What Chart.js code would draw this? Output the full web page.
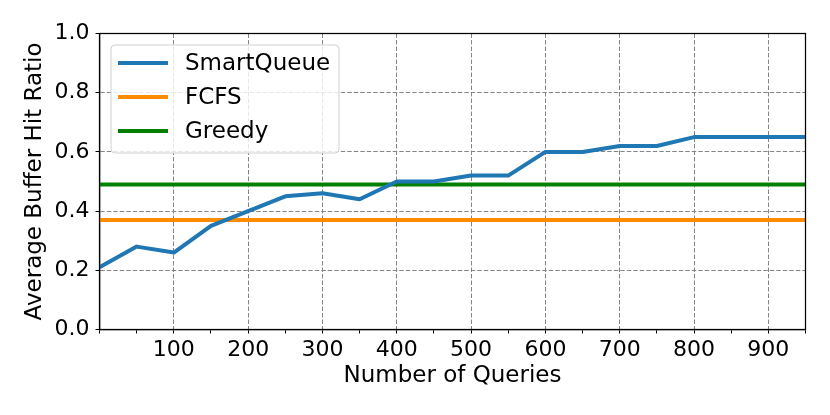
<!DOCTYPE html>
<html>
<head>
<meta charset="utf-8">
<script src="https://cdn.jsdelivr.net/npm/chart.js@4"></script>
<style>
  html, body { margin: 0; padding: 0; background: #fff; }
  #wrap { width: 830px; height: 415px; }
</style>
</head>
<body>
<div id="wrap"><canvas id="myChart"></canvas></div>
<script>
// Data
const queries = [0, 50, 100, 150, 200, 250, 300, 350, 400, 450, 500, 550, 600, 650, 700, 750, 800, 850, 900, 950];
const smartQueue = [0.21, 0.28, 0.26, 0.35, 0.40, 0.45, 0.46, 0.44, 0.50, 0.50, 0.52, 0.52, 0.60, 0.60, 0.62, 0.62, 0.65, 0.65, 0.65, 0.65];
const fcfs = 0.37;
const greedy = 0.49;
const xTicks = [0, 50, 100, 150, 200, 250, 300, 350, 400, 450, 500, 550, 600, 650, 700, 750, 800, 850, 900, 950];
const yTicks = [0, 0.2, 0.4, 0.6, 0.8, 1.0];

const FONT = "'DejaVu Sans', sans-serif";
Chart.defaults.font.family = FONT;
Chart.defaults.color = "#000";

function toPoints(xs, ys) {
  return xs.map((x, i) => ({ x: x, y: ys[i] }));
}

function flat(value) {
  return [{ x: queries[0], y: value }, { x: queries[queries.length - 1], y: value }];
}

// frame around the plot + legend inside the top left corner
const framePlugin = {
  id: "frame",
  afterDraw(chart) {
    const ctx = chart.ctx;
    const a = chart.chartArea;
    ctx.save();
    ctx.setLineDash([]);
    ctx.strokeStyle = "#000";
    ctx.lineWidth = 1.25;
    ctx.strokeRect(a.left, a.top, a.right - a.left, a.bottom - a.top);

    // legend box
    const bx = a.left + 11.5, by = a.top + 11.5, bw = 228, bh = 108, r = 4;
    ctx.beginPath();
    ctx.roundRect(bx, by, bw, bh, r);
    ctx.fillStyle = "rgba(255,255,255,0.8)";
    ctx.fill();
    ctx.strokeStyle = "#d0d0d0";
    ctx.lineWidth = 1;
    ctx.stroke();

    ctx.font = "23px " + FONT;
    ctx.textBaseline = "middle";
    chart.data.datasets.forEach((ds, i) => {
      const y = by + 18 + i * 34;
      ctx.beginPath();
      ctx.moveTo(bx + 7, y);
      ctx.lineTo(bx + 57, y);
      ctx.strokeStyle = ds.borderColor;
      ctx.lineWidth = 4;
      ctx.stroke();
      ctx.fillStyle = "#000";
      ctx.fillText(ds.label, bx + 74, y + 1);
    });
    ctx.restore();
  }
};

const ctx = document.getElementById("myChart");

new Chart(ctx, {
  type: "line",
  data: {
    datasets: [
      {
        label: "SmartQueue",
        data: toPoints(queries, smartQueue),
        borderColor: "#1f77b4",
        borderWidth: 4,
      },
      {
        label: "FCFS",
        data: flat(fcfs),
        borderColor: "#ff8c00",
        borderWidth: 4,
      },
      {
        label: "Greedy",
        data: flat(greedy),
        borderColor: "#008000",
        borderWidth: 4,
      },
    ],
  },
  options: {
    responsive: true,
    maintainAspectRatio: false,
    animation: false,
    devicePixelRatio: 1,
    layout: { padding: { left: 0, right: 24.5, top: 33.5, bottom: 0 } },
    elements: {
      point: { radius: 0 },
      line: { tension: 0, borderCapStyle: "butt", borderJoinStyle: "round" },
    },
    plugins: {
      legend: { display: false },
      tooltip: { enabled: false },
    },
    scales: {
      x: {
        type: "linear",
        min: 0,
        max: 950,
        afterBuildTicks(scale) {
          scale.ticks = xTicks.map((v) => ({ value: v }));
        },
        afterFit(scale) {
          scale.height = 85.5;
        },
        ticks: {
          autoSkip: false,
          maxRotation: 0,
          padding: 4,
          font: { size: 22 },
          callback: (v) => (v % 100 === 0 && v !== 0 ? String(v) : ""),
        },
        grid: {
          color: (c) => (c.tick && c.tick.value % 100 === 0 && c.tick.value !== 0 ? "#858585" : "rgba(0,0,0,0)"),
          lineWidth: 1,
          tickColor: "#000",
          tickLength: 4,
          tickWidth: 1,
          tickBorderDash: [],
        },
        border: { display: true, color: "#000", width: 1.25, dash: [4.5, 2] },
        title: {
          display: true,
          text: "Number of Queries",
          font: { size: 23 },
          padding: { top: 0, bottom: 25.5 },
        },
      },
      y: {
        min: 0,
        max: 1,
        afterBuildTicks(scale) {
          scale.ticks = yTicks.map((v) => ({ value: v }));
        },
        afterFit(scale) {
          scale.width = 99.5;
        },
        ticks: {
          padding: 6,
          font: { size: 22 },
          callback: (v) => v.toFixed(1),
        },
        grid: {
          color: (c) => (c.tick && c.tick.value > 0.01 && c.tick.value < 0.99 ? "#858585" : "rgba(0,0,0,0)"),
          lineWidth: 1,
          tickColor: "#000",
          tickLength: 4,
          tickWidth: 1,
          tickBorderDash: [],
        },
        border: { display: true, color: "#000", width: 1.25, dash: [4.5, 2] },
        title: {
          display: true,
          text: "Average Buffer Hit Ratio",
          font: { size: 23 },
          padding: { top: 21.5, bottom: 0 },
        },
      },
    },
  },
  plugins: [framePlugin],
});
</script>
</body>
</html>
